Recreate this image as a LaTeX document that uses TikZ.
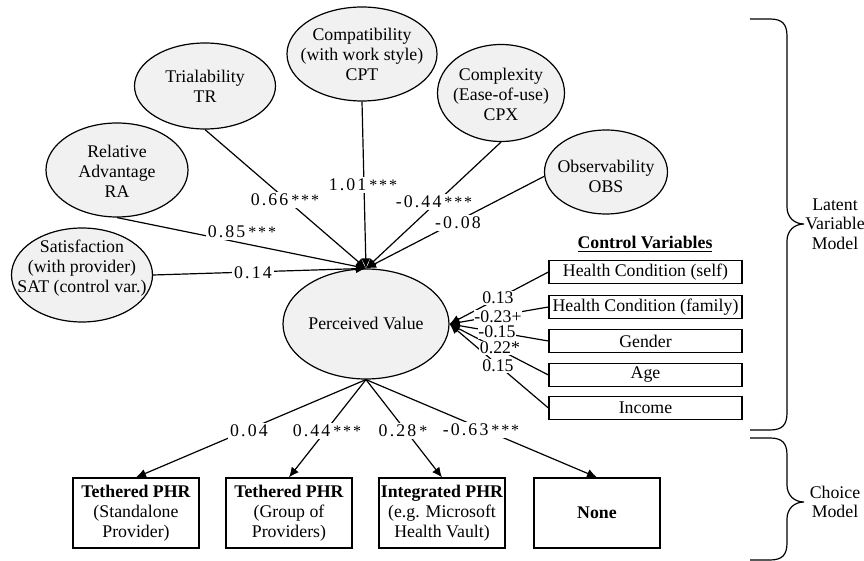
\documentclass[tikz,border=0pt]{standalone}
\usepackage{fontspec}
\setmainfont{Liberation Serif}
\newfontfamily\spc[LetterSpace=12]{Liberation Serif}
\usetikzlibrary{shapes.geometric,arrows.meta}
\definecolor{ellfill}{RGB}{240,241,240}
\newcommand\sigstars[1]{\,{\fontsize{8}{9}\selectfont #1}}
\tikzset{
  lat/.style={ellipse, draw, fill=ellfill, line width=0.6pt, inner sep=0pt},
  etext/.style={align=center, inner sep=0pt, font=\fontsize{8.9}{10}\selectfont},
  coef/.style={fill=white, inner sep=1pt, font=\fontsize{8.9}{10}\spc},
  clab/.style={fill=white, inner sep=0.4pt, font=\fontsize{8.9}{10}\selectfont},
  conn/.style={line width=0.6pt, -{Latex[length=5pt,width=4.5pt]}},
  chbox/.style={draw, line width=0.6pt, minimum width=63pt, minimum height=35pt, inner sep=0pt, align=center, font=\fontsize{8.9}{10}\selectfont},
  cbox/.style={draw, line width=0.6pt, minimum width=96.5pt, minimum height=11.5pt, inner sep=0pt, font=\fontsize{8.9}{10}\selectfont},
  brc/.style={line width=0.6pt},
  brtext/.style={align=center, inner sep=0pt, font=\fontsize{8.9}{9.8}\selectfont}
}
\begin{document}
\begin{tikzpicture}[x=0.5pt,y=-0.5pt]
\useasboundingbox (0,0) rectangle (864,561);

% latent variables
\node[lat, minimum width=70.5pt, minimum height=43pt] (TR) at (205,86) {};
\node[etext] (TRt) at (TR) {Trialability\\TR};
\node[lat, minimum width=75pt, minimum height=47pt] (CPT) at (362,54) {};
\node[etext] (CPTt) at (CPT) {Compatibility\\(with work style)\\CPT};
\node[lat, minimum width=71pt, minimum height=47pt] (RA) at (117,170) {};
\node[etext] (RAt) at (117,171) {Relative\\Advantage\\RA};
\node[lat, minimum width=70.5pt, minimum height=47pt] (SAT) at (82,275) {};
\node[etext] (SATt) at (82,268) {Satisfaction\\(with provider)\\SAT (control var.)};
\node[lat, minimum width=63.5pt, minimum height=48.5pt] (CPX) at (501,93) {};
\node[etext] (CPXt) at (501,94) {Complexity\\(Ease-of-use)\\CPX};
\node[lat, minimum width=61.5pt, minimum height=42pt] (OBS) at (606,172) {};
\node[etext] (OBSt) at (606,176) {Observability\\OBS};
\node[lat, minimum width=83pt, minimum height=55pt] (PV) at (366,324) {};
\node[etext] (PVt) at (366,323) {Perceived Value};

% control variables
\node[font=\fontsize{8.9}{10}\selectfont\bfseries, inner sep=0pt] (CVh) at (645,244) {\underline{Control Variables}};
\node[cbox] (HCs) at (645.5,272) {Health Condition (self)};
\node[cbox] (HCf) at (645.5,307) {Health Condition (family)};
\node[cbox] (GEN) at (645.5,341) {Gender};
\node[cbox] (AGE) at (645.5,375) {Age};
\node[cbox] (INC) at (645.5,408) {Income};

% choice boxes
\node[chbox] (B1) at (136,513) {\textbf{Tethered PHR}\\(Standalone\\Provider)};
\node[chbox] (B2) at (289,513) {\textbf{Tethered PHR}\\(Group of\\Providers)};
\node[chbox] (B3) at (442,513) {\textbf{Integrated PHR}\\(e.g. Microsoft\\Health Vault)};
\node[chbox] (B4) at (597,513) {\textbf{None}};

% connectors into Perceived Value
\draw[conn] (TR.south) -- (PV.north);
\draw[conn] (CPT.south) -- (PV.north);
\draw[conn] (RA.south) -- (PV.north);
\draw[conn] (SAT.east) -- (PV.north);
\draw[conn] (CPX.south) -- (PV.north);
\draw[conn] (OBS.184) -- (PV.north);

\draw[conn] (HCs.west) -- (PV.east);
\draw[conn] (HCf.west) -- (PV.east);
\draw[conn] (GEN.west) -- (PV.east);
\draw[conn] (AGE.west) -- (PV.east);
\draw[conn] (INC.west) -- (PV.east);

\draw[conn] (PV.south) -- (B1.north);
\draw[conn] (PV.south) -- (B2.north);
\draw[conn] (PV.south) -- (B3.north);
\draw[conn] (PV.south) -- (B4.north);

% coefficient labels
\node[coef] (cTR) at (285,200) {0.66\sigstars{***}};
\node[coef] (cCPT) at (363,185) {1.01\sigstars{***}};
\node[coef] (cRA) at (242,232) {0.85\sigstars{***}};
\node[coef] (cSAT) at (253,273) {0.14};
\node[coef] (cCPX) at (434,202) {-0.44\sigstars{***}};
\node[coef] (cOBS) at (458,223) {-0.08};

\node[clab] (cHCs) at (498,298) {0.13};
\node[clab] (cHCf) at (498,317) {-0.23+};
\node[clab] (cGEN) at (497,332) {-0.15};
\node[clab] (cAGE) at (500,348) {0.22*};
\node[clab] (cINC) at (498,366) {0.15};

\node[coef] (cB1) at (249,431) {0.04};
\node[coef] (cB2) at (327,431) {0.44\sigstars{***}};
\node[coef] (cB3) at (403,431) {0.28\sigstars{*}};
\node[coef] (cB4) at (481,430) {-0.63\sigstars{***}};

% braces
\draw[brc] (750,19) -- (770,19) .. controls (782,19) and (787,24) .. (787,36)
  -- (787,207) .. controls (787,217) and (794,224) .. (804,224)
  .. controls (794,224) and (787,231) .. (787,241)
  -- (787,413) .. controls (787,425) and (782,430) .. (770,430) -- (750,430);
\draw[brc] (750,438) -- (770,438) .. controls (782,438) and (787,443) .. (787,455)
  -- (787,485) .. controls (787,495) and (794,502) .. (804,502)
  .. controls (794,502) and (787,509) .. (787,519)
  -- (787,543) .. controls (787,555) and (782,560) .. (770,560) -- (750,560);
\node[brtext] (LVM) at (835,224) {Latent\\Variable\\Model};
\node[brtext] (CM) at (835,502) {Choice\\Model};
\end{tikzpicture}
\end{document}
